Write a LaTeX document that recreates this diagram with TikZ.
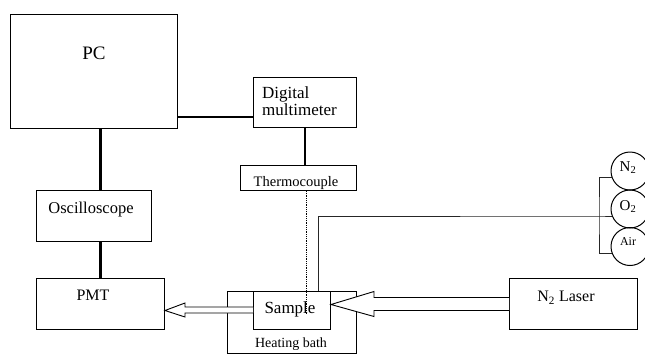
\documentclass[tikz,border=0pt]{standalone}
\usepackage{fontspec}
\setmainfont{Liberation Serif}
\usetikzlibrary{calc,positioning}

\begin{document}
\begin{tikzpicture}[
  x=1pt, y=-1pt,
  unit/.style={rectangle, draw, line width=1pt, anchor=north west, inner sep=0pt},
  tag/.style={inner sep=0pt, anchor=base, font=\fontsize{16}{18}\selectfont},
  bottle/.style={circle, draw, line width=1pt, minimum size=38pt, inner sep=0pt},
  link/.style={line width=2.8pt},
  pipe/.style={line width=0.9pt, black!85},
  beam/.style={draw, fill=white, line width=0.9pt, line join=miter}
]
  \useasboundingbox (0,0) rectangle (645,354);
  \clip (0,0) rectangle (645,354);

  % boxes
  \node[unit, minimum width=167pt, minimum height=114pt] (pc)  at (10,14)  {};
  \node[unit, minimum width=103pt, minimum height=50pt]  (dmm) at (253,77) {};
  \node[unit, minimum width=116pt, minimum height=25pt]  (tc)  at (240,165) {};
  \node[unit, minimum width=115pt, minimum height=51pt]  (osc) at (36,190) {};
  \node[unit, minimum width=128pt, minimum height=51pt]  (pmt) at (36,278) {};
  \node[unit, minimum width=129pt, minimum height=62pt]  (bath) at (227,291) {};
  \node[unit, minimum width=77pt,  minimum height=38pt]  (sample) at (253,291) {};
  \node[unit, minimum width=128pt, minimum height=51pt]  (laser) at (509,278) {};

  \node[bottle] (n2)  at (630,171)   {};
  \node[bottle] (o2)  at (630,209)   {};
  \node[bottle] (air) at (630,246.5) {};

  % texts
  \node[tag, font=\fontsize{19}{21}\selectfont] (pc txt) at (94,59.5) {PC};
  \node[tag, anchor=north west, align=left, font=\fontsize{17}{16.3}\selectfont] (dmm txt) at (262,87) {Digital\\multimeter};
  \node[tag, font=\fontsize{14.5}{16}\selectfont] (tc txt) at (296,186) {Thermocouple};
  \node[tag, font=\fontsize{16.5}{18}\selectfont] (osc txt) at (91,213) {Oscilloscope};
  \node[tag] (pmt txt) at (93,300.7) {PMT};
  \node[tag, font=\fontsize{17}{19}\selectfont] (sample txt) at (290,313.3) {Sample};
  \node[tag, font=\fontsize{14}{16}\selectfont] (bath txt) at (291,347) {Heating bath};
  \node[tag] (laser txt) at (566,301.7) {N\textsubscript{2} Laser};
  \node[tag, font=\fontsize{15}{17}\selectfont] (n2 txt) at (628,171.7) {N\textsubscript{2}};
  \node[tag, font=\fontsize{15}{17}\selectfont] (o2 txt) at (628,210.7) {O\textsubscript{2}};
  \node[tag, font=\fontsize{12}{14}\selectfont] (air txt) at (628,245) {Air};

  % cables
  \draw[link] ([yshift=12pt]pc.south east) -- ([yshift=12pt]pc.south east -| dmm.west);
  \draw[link] (pmt.north |- pc.south) -- (pmt.north |- osc.north);
  \draw[link] (pmt.north |- osc.south) -- (pmt.north);
  \draw[link] (dmm.south) -- (dmm.south |- tc.north);
  \draw[densely dotted, line width=0.8pt] ([xshift=1pt]dmm.south |- tc.south) -- ([xshift=1pt,yshift=-4pt]dmm.south |- sample.center);

  % gas lines
  \coordinate (tee) at (599,216);
  \draw[pipe] ([xshift=-13pt]sample.north east) |- (tee) -- (tee -| o2.200);
  \draw[pipe] (n2.200) -| (tee) |- (air.200);

  % light paths
  \draw[beam] (laser.west |- 0,297.5) -- (374,297.5) -- (374,291.5) -- ([yshift=6pt]sample.east)
    -- (374,316.5) -- (374,310.5) -- (laser.west |- 0,310.5);
  \draw[beam] (sample.west |- 0,307) -- (185,307) -- (185,303) -- ([yshift=-6.5pt]pmt.east)
    -- (185,317) -- (185,313) -- (sample.west |- 0,313);
\end{tikzpicture}
\end{document}
